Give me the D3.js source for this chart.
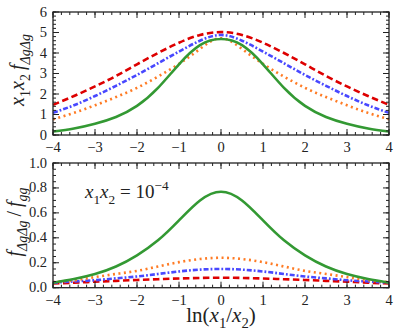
<!DOCTYPE html>
<html>
<head>
<meta charset="utf-8">
<script src="https://cdn.jsdelivr.net/npm/d3@7"></script>
<style>
  body { margin: 0; background: #fff; }
  text { font-family: "Liberation Serif", "DejaVu Serif", serif; fill: #222; }
</style>
</head>
<body>
<div id="chart"></div>
<script>
// DATA
const lnRatio = [-4, -3.5, -3, -2.5, -2, -1.5, -1, -0.5, 0, 0.5, 1, 1.5, 2, 2.5, 3, 3.5, 4]

// top panel: x1 x2 f_{dg dg}
const topRed    = [1.47, 1.9, 2.37, 2.88, 3.45, 4.0, 4.5, 4.88, 5.02, 4.88, 4.5, 4.0, 3.45, 2.88, 2.37, 1.9, 1.47]
const topBlue   = [1.08, 1.45, 1.9, 2.4, 2.93, 3.5, 4.07, 4.6, 4.88, 4.6, 4.07, 3.5, 2.93, 2.4, 1.9, 1.45, 1.08]
const topOrange = [0.77, 1.08, 1.45, 1.85, 2.3, 2.85, 3.47, 4.2, 4.72, 4.2, 3.47, 2.85, 2.3, 1.85, 1.45, 1.08, 0.77]
const topGreen  = [0.17, 0.32, 0.55, 0.88, 1.42, 2.3, 3.45, 4.38, 4.68, 4.38, 3.45, 2.3, 1.42, 0.88, 0.55, 0.32, 0.17]

// bottom panel: ratio f_{dg dg} / f_{gg}
const botRed    = [0.035, 0.04, 0.048, 0.055, 0.062, 0.068, 0.074, 0.078, 0.08, 0.078, 0.074, 0.068, 0.062, 0.055, 0.048, 0.04, 0.035]
const botBlue   = [0.04, 0.05, 0.06, 0.075, 0.09, 0.11, 0.13, 0.145, 0.15, 0.145, 0.13, 0.11, 0.09, 0.075, 0.06, 0.05, 0.04]
const botOrange = [0.045, 0.06, 0.085, 0.11, 0.135, 0.17, 0.205, 0.23, 0.24, 0.23, 0.205, 0.17, 0.135, 0.11, 0.085, 0.06, 0.045]
const botGreen  = [0.04, 0.07, 0.11, 0.17, 0.26, 0.38, 0.54, 0.70, 0.77, 0.70, 0.54, 0.38, 0.26, 0.17, 0.11, 0.07, 0.04]

const xTicks = [-4, -3, -2, -1, 0, 1, 2, 3, 4]
const topTicks = [0, 1, 2, 3, 4, 5, 6]
const botTicks = [0, 0.2, 0.4, 0.6, 0.8, 1.0]

// LAYOUT
const W = 399, H = 334
const LEFT = 53, RIGHT = 389

const svg = d3.select("#chart").append("svg")
	.attr("width", W)
	.attr("height", H)

const x = d3.scaleLinear().domain([-4, 4]).range([LEFT, RIGHT])
const yTop = d3.scaleLinear().domain([0, 6]).range([135, 12])
const yBot = d3.scaleLinear().domain([0, 1]).range([287.7, 163])

const styles = [
	{ color: "#dd0000", dash: "6.5,3.5" },
	{ color: "#4848ff", dash: "5,2,1.8,2" },
	{ color: "#ff7b24", dash: "2,3.5" },
	{ color: "#339933", dash: null }
]

// draws a framed panel with inward ticks on all four sides
function panel(y, yTicks, yMinorStep, yFmt, series) {
	const g = svg.append("g")
	const [y0, y1] = y.range()

	const line = d3.line()
		.x((d, i) => x(lnRatio[i]))
		.y(d => y(d))
		.curve(d3.curveNatural)

	series.forEach((s, k) => {
		g.append("path")
			.attr("d", line(s))
			.attr("fill", "none")
			.attr("stroke", styles[k].color)
			.attr("stroke-width", 2.6)
			.attr("stroke-dasharray", styles[k].dash)
	})

	// minor ticks
	const xMinor = d3.range(-4, 4.001, 0.2)
	const yMinor = d3.range(y.domain()[0], y.domain()[1] + 1e-6, yMinorStep)
	const tk = g.append("g").attr("stroke", "#222").attr("stroke-width", 1)
	xMinor.forEach(v => {
		tk.append("line").attr("x1", x(v)).attr("x2", x(v)).attr("y1", y0).attr("y2", y0 - 3)
		tk.append("line").attr("x1", x(v)).attr("x2", x(v)).attr("y1", y1).attr("y2", y1 + 3)
	})
	yMinor.forEach(v => {
		tk.append("line").attr("x1", LEFT).attr("x2", LEFT + 3).attr("y1", y(v)).attr("y2", y(v))
		tk.append("line").attr("x1", RIGHT).attr("x2", RIGHT - 3).attr("y1", y(v)).attr("y2", y(v))
	})
	// major ticks
	xTicks.forEach(v => {
		tk.append("line").attr("x1", x(v)).attr("x2", x(v)).attr("y1", y0).attr("y2", y0 - 6)
		tk.append("line").attr("x1", x(v)).attr("x2", x(v)).attr("y1", y1).attr("y2", y1 + 6)
	})
	yTicks.forEach(v => {
		tk.append("line").attr("x1", LEFT).attr("x2", LEFT + 6).attr("y1", y(v)).attr("y2", y(v))
		tk.append("line").attr("x1", RIGHT).attr("x2", RIGHT - 6).attr("y1", y(v)).attr("y2", y(v))
	})

	g.append("rect")
		.attr("x", LEFT).attr("y", y1)
		.attr("width", RIGHT - LEFT).attr("height", y0 - y1)
		.attr("fill", "none").attr("stroke", "#222").attr("stroke-width", 1.3)

	// tick labels
	g.selectAll(".xl").data(xTicks).enter().append("text")
		.attr("x", d => x(d))
		.attr("y", y0 + 17)
		.attr("text-anchor", "middle")
		.attr("font-size", "14.5px")
		.text(d => d < 0 ? "\u2212" + Math.abs(d) : d)

	g.selectAll(".yl").data(yTicks).enter().append("text")
		.attr("x", LEFT - 6)
		.attr("y", d => y(d) + 4.5)
		.attr("text-anchor", "end")
		.attr("font-size", "14.5px")
		.text(yFmt)
	return g
}

panel(yTop, topTicks, 0.2, d3.format("d"), [topRed, topBlue, topOrange, topGreen])
panel(yBot, botTicks, 0.05, d3.format(".1f"), [botRed, botBlue, botOrange, botGreen])

// math-like text: parts are [text, kind] with kind "i" italic, "sub", "isub", "sup", "" roman
function mathText(parent, parts, size) {
	const t = parent.append("text").attr("font-size", size + "px")
	let shift = 0
	parts.forEach(([s, kind]) => {
		const sp = t.append("tspan").text(s)
		let target = 0
		if (kind.includes("sub")) target = size * 0.3
		if (kind.includes("sup")) target = -size * 0.4
		sp.attr("dy", target - shift)
		shift = target
		if (kind.includes("sub") || kind.includes("sup")) sp.attr("font-size", (size * 0.7) + "px")
		if (kind.includes("i")) sp.attr("font-style", "italic")
	})
	return t
}

// y label top
mathText(svg.append("g").attr("transform", "translate(24,70) rotate(-90)"),
	[["x", "i"], ["1", "sub"], ["x", "i"], ["2", "sub"], ["\u2009f", "i"], ["\u0394g\u0394g", "isub"]], 20)
	.attr("text-anchor", "middle")

// y label bottom
mathText(svg.append("g").attr("transform", "translate(21,222) rotate(-90)"),
	[["f", "i"], ["\u0394g\u0394g", "isub"], ["\u2009/\u2009", ""], ["f", "i"], ["gg", "isub"]], 20)
	.attr("text-anchor", "middle")

// annotation
mathText(svg.append("g").attr("transform", "translate(85,198)"),
	[["x", "i"], ["1", "sub"], ["x", "i"], ["2", "sub"], [" =  10", ""], ["\u22124", "sup"]], 19)

// x label
mathText(svg.append("g").attr("transform", "translate(221,322)"),
	[["ln(", ""], ["x", "i"], ["1", "sub"], ["/", ""], ["x", "i"], ["2", "sub"], [")", ""]], 21)
	.attr("text-anchor", "middle")
</script>
</body>
</html>
